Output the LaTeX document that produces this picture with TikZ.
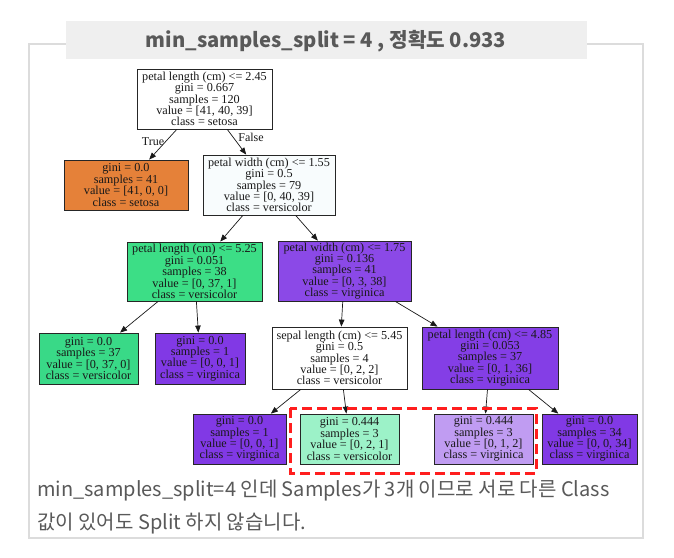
\documentclass[tikz,border=0pt]{standalone}
\usepackage{fontspec}
\setmainfont{Liberation Serif}
\newfontfamily\kr{Noto Sans CJK KR}
\usetikzlibrary{arrows.meta}
\definecolor{setosa}{HTML}{E58139}
\definecolor{versi}{HTML}{3CDE86}
\definecolor{virg}{HTML}{843EE6}
\definecolor{virgb}{HTML}{8B49E7}
\definecolor{virgf}{HTML}{8139E5}
\definecolor{versf}{HTML}{39D987}
\definecolor{lgreen}{HTML}{9CF2C8}
\definecolor{lpurple}{HTML}{C09CF2}
\definecolor{nearwhite}{HTML}{F8FCFD}
\definecolor{framegray}{HTML}{DCDCDC}
\definecolor{bandgray}{HTML}{EFEFEF}
\definecolor{textgray}{HTML}{595959}
\definecolor{hired}{HTML}{FF1E1E}
\tikzset{
  tnode/.style={draw=black!85, line width=0.8pt, rectangle, inner sep=0pt, align=center,
    font=\fontsize{12.2}{11.4}\selectfont, text=black!90},
  edge/.style={line width=0.7pt, black!90, -{Triangle[length=7pt,width=5.5pt]}},
  elabel/.style={font=\fontsize{12}{12}\selectfont, text=black!90},
  captext/.style={anchor=west, font={\kr\fontsize{20}{20}\selectfont}, text=textgray, inner sep=0pt},
}
\begin{document}
\begin{tikzpicture}[x=1pt,y=-1pt]
\useasboundingbox (0,0) rectangle (674,557);
\fill[white] (0,0) rectangle (674,557);
% frame
\draw[framegray, line width=2pt] (29,44) rectangle (643,538);
% title band
\fill[bandgray] (66,21) rectangle (587,59);
\node[font={\kr\bfseries\fontsize{20.2}{20.2}\selectfont}, text=textgray] (title) at (326,41) {min\_samples\_split = 4 , 정확도 0.933};
% tree nodes
\node[tnode, fill=white, minimum width=135pt, minimum height=60pt] (root) at (204.5,99) {petal length (cm) <= 2.45\\gini = 0.667\\samples = 120\\value = [41, 40, 39]\\class = setosa};
\node[tnode, fill=setosa, minimum width=124pt, minimum height=50pt] (set) at (126,185) {gini = 0.0\\samples = 41\\value = [41, 0, 0]\\class = setosa};
\node[tnode, fill=nearwhite, minimum width=132pt, minimum height=60pt] (pw1) at (269,185) {petal width (cm) <= 1.55\\gini = 0.5\\samples = 79\\value = [0, 40, 39]\\class = versicolor};
\node[tnode, fill=versi, minimum width=135pt, minimum height=59pt] (pl1) at (194.5,271.5) {petal length (cm) <= 5.25\\gini = 0.051\\samples = 38\\value = [0, 37, 1]\\class = versicolor};
\node[tnode, fill=virgb, minimum width=133pt, minimum height=60pt] (pw2) at (344.5,271) {petal width (cm) <= 1.75\\gini = 0.136\\samples = 41\\value = [0, 3, 38]\\class = virginica};
\node[tnode, fill=versf, minimum width=99pt, minimum height=51pt] (l1) at (88.5,358.5) {gini = 0.0\\samples = 37\\value = [0, 37, 0]\\class = versicolor};
\node[tnode, fill=virgf, minimum width=90pt, minimum height=51pt] (l2) at (200,358.5) {gini = 0.0\\samples = 1\\value = [0, 0, 1]\\class = virginica};
\node[tnode, fill=white, minimum width=135pt, minimum height=62pt] (sl) at (339.5,358) {sepal length (cm) <= 5.45\\gini = 0.5\\samples = 4\\value = [0, 2, 2]\\class = versicolor};
\node[tnode, fill=virg, minimum width=136pt, minimum height=62pt] (pl2) at (490,358) {petal length (cm) <= 4.85\\gini = 0.053\\samples = 37\\value = [0, 1, 36]\\class = virginica};
\node[tnode, fill=virgf, minimum width=93pt, minimum height=50pt] (la) at (239.5,439) {gini = 0.0\\samples = 1\\value = [0, 0, 1]\\class = virginica};
\node[tnode, fill=lgreen, minimum width=99pt, minimum height=50pt] (lb) at (349.5,439) {gini = 0.444\\samples = 3\\value = [0, 2, 1]\\class = versicolor};
\node[tnode, fill=lpurple, minimum width=99pt, minimum height=50pt] (lc) at (483.5,439) {gini = 0.444\\samples = 3\\value = [0, 1, 2]\\class = virginica};
\node[tnode, fill=virgf, minimum width=95pt, minimum height=50pt] (ld) at (589.5,439) {gini = 0.0\\samples = 34\\value = [0, 0, 34]\\class = virginica};
% edges
\draw[edge] (root) -- (set);
\draw[edge] (root) -- (pw1);
\draw[edge] (pw1) -- (pl1);
\draw[edge] (pw1) -- (pw2);
\draw[edge] (pl1) -- (l1);
\draw[edge] (pl1) -- (l2);
\draw[edge] (pw2) -- (sl);
\draw[edge] (pw2) -- (pl2);
\draw[edge] (sl) -- (la);
\draw[edge] (sl) -- (lb);
\draw[edge] (pl2) -- (lc);
\draw[edge] (pl2) -- (ld);
\node[elabel] (t) at (153,142) {True};
\node[elabel] (f) at (251,137) {False};
% highlight
\draw[hired, line width=3pt, dash pattern=on 10pt off 5pt] (290,408) rectangle (536,473);
% caption
\node[captext] (cap1) at (37,491) {min\_samples\_split=4 인데 Samples가 3개 이므로 서로 다른 Class};
\node[captext] (cap2) at (37,523.5) {값이 있어도 Split 하지 않습니다.};
\end{tikzpicture}
\end{document}
